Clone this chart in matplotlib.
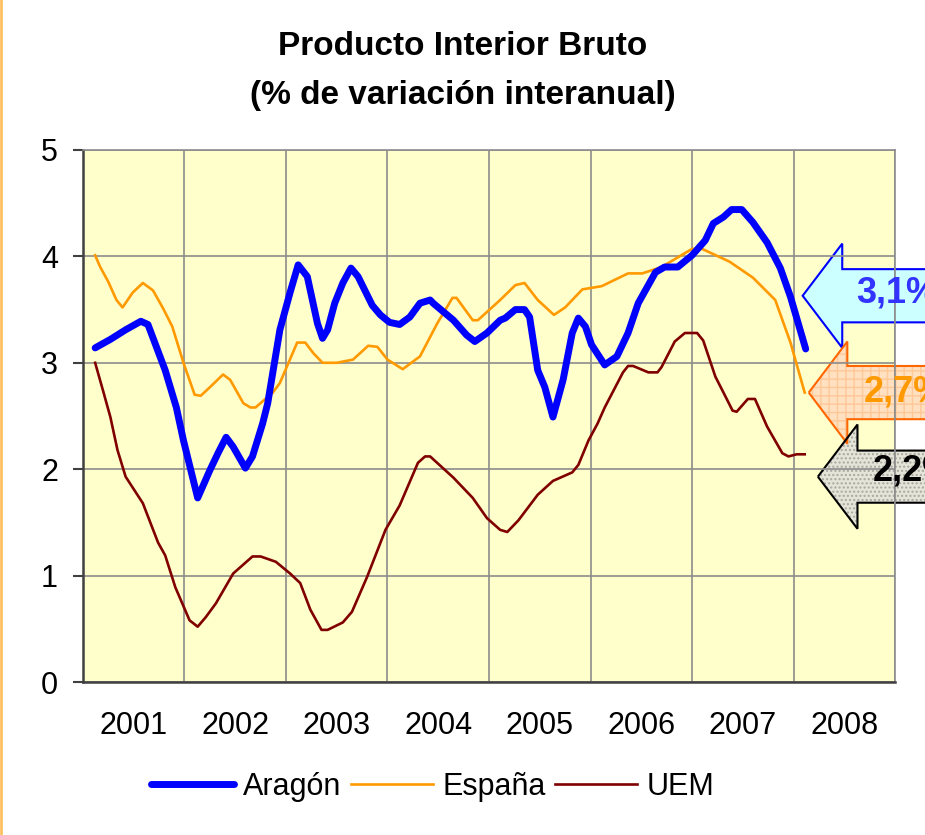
import matplotlib
matplotlib.use('Agg')
import matplotlib.pyplot as plt
from matplotlib.patches import Polygon
from matplotlib.lines import Line2D

plt.rcParams['font.family'] = ['Liberation Sans', 'DejaVu Sans']
plt.rcParams['hatch.linewidth'] = 1.0

# series (x = decimal year, y = % interanual)
aragon_x = [2001.12, 2001.27, 2001.42, 2001.57, 2001.64, 2001.81, 2001.92, 2001.99,
            2002.13, 2002.25, 2002.33, 2002.41, 2002.48, 2002.60, 2002.67, 2002.77,
            2002.82, 2002.94, 2003.04, 2003.12, 2003.21, 2003.31, 2003.36, 2003.41,
            2003.48, 2003.56, 2003.64, 2003.71, 2003.85, 2003.93, 2004.02, 2004.12,
            2004.22, 2004.32, 2004.42, 2004.45, 2004.65, 2004.78, 2004.86, 2004.98,
            2005.11, 2005.16, 2005.26, 2005.35, 2005.40, 2005.48, 2005.55, 2005.63,
            2005.73, 2005.82, 2005.88, 2005.95, 2006.01, 2006.14, 2006.26, 2006.37,
            2006.47, 2006.64, 2006.73, 2006.86, 2007.00, 2007.13, 2007.21, 2007.31,
            2007.39, 2007.49, 2007.60, 2007.74, 2007.87, 2007.97, 2008.12]
aragon_y = [3.14, 3.22, 3.31, 3.39, 3.36, 2.93, 2.58, 2.27,
            1.73, 1.99, 2.15, 2.30, 2.21, 2.01, 2.12, 2.43,
            2.62, 3.31, 3.66, 3.92, 3.81, 3.37, 3.23, 3.31,
            3.56, 3.75, 3.89, 3.81, 3.54, 3.45, 3.38, 3.36,
            3.43, 3.56, 3.59, 3.56, 3.40, 3.26, 3.20, 3.28,
            3.40, 3.42, 3.50, 3.50, 3.43, 2.93, 2.77, 2.49,
            2.84, 3.28, 3.42, 3.34, 3.17, 2.98, 3.06, 3.28,
            3.56, 3.85, 3.90, 3.90, 4.01, 4.15, 4.31, 4.37,
            4.44, 4.44, 4.32, 4.13, 3.89, 3.62, 3.13]

espana_x = [2001.12, 2001.17, 2001.25, 2001.33, 2001.39, 2001.49, 2001.59, 2001.69,
            2001.79, 2001.88, 2001.99, 2002.10, 2002.16, 2002.25, 2002.38, 2002.45,
            2002.58, 2002.65, 2002.70, 2002.87, 2002.94, 2003.11, 2003.19, 2003.27,
            2003.36, 2003.50, 2003.66, 2003.81, 2003.90, 2004.00, 2004.15, 2004.32,
            2004.49, 2004.64, 2004.68, 2004.84, 2004.89, 2005.11, 2005.26, 2005.35,
            2005.48, 2005.64, 2005.75, 2005.92, 2006.11, 2006.37, 2006.51, 2006.70,
            2007.00, 2007.10, 2007.37, 2007.60, 2007.82, 2007.97, 2008.11]
espana_y = [4.01, 3.90, 3.76, 3.59, 3.52, 3.66, 3.75, 3.68,
            3.51, 3.34, 3.00, 2.70, 2.69, 2.77, 2.89, 2.84,
            2.62, 2.58, 2.58, 2.72, 2.81, 3.19, 3.19, 3.09,
            3.00, 3.00, 3.03, 3.16, 3.15, 3.03, 2.94, 3.06,
            3.37, 3.61, 3.61, 3.40, 3.40, 3.59, 3.73, 3.75,
            3.59, 3.45, 3.52, 3.69, 3.72, 3.84, 3.84, 3.90,
            4.07, 4.07, 3.95, 3.80, 3.59, 3.19, 2.72]

uem_x = [2001.12, 2001.20, 2001.27, 2001.34, 2001.42, 2001.59, 2001.74, 2001.81,
         2001.91, 2002.05, 2002.13, 2002.21, 2002.31, 2002.48, 2002.67, 2002.75,
         2002.90, 2003.04, 2003.14, 2003.24, 2003.35, 2003.41, 2003.56, 2003.65,
         2003.80, 2003.98, 2004.12, 2004.30, 2004.37, 2004.42, 2004.65, 2004.84,
         2004.98, 2005.11, 2005.18, 2005.29, 2005.48, 2005.63, 2005.82, 2005.88,
         2005.98, 2006.07, 2006.14, 2006.32, 2006.37, 2006.42, 2006.57, 2006.66,
         2006.70, 2006.83, 2006.93, 2007.05, 2007.11, 2007.23, 2007.31, 2007.40,
         2007.44, 2007.55, 2007.62, 2007.74, 2007.89, 2007.95, 2008.03, 2008.11]
uem_y = [3.00, 2.73, 2.49, 2.18, 1.93, 1.68, 1.31, 1.19,
         0.89, 0.58, 0.52, 0.61, 0.74, 1.02, 1.18, 1.18,
         1.13, 1.02, 0.93, 0.68, 0.49, 0.49, 0.56, 0.66,
         0.99, 1.43, 1.66, 2.06, 2.12, 2.12, 1.92, 1.73,
         1.54, 1.43, 1.41, 1.52, 1.76, 1.89, 1.97, 2.04,
         2.27, 2.43, 2.58, 2.91, 2.97, 2.97, 2.91, 2.91,
         2.96, 3.20, 3.28, 3.28, 3.21, 2.87, 2.72, 2.55,
         2.54, 2.66, 2.66, 2.40, 2.15, 2.12, 2.14, 2.14]

years = ['2001', '2002', '2003', '2004', '2005', '2006', '2007', '2008']
callout_text = ['3,1%', '2,7%', '2,2%']


def left_arrow(ax, tip_x, mid_y, head_x, head_h, shaft_h, end_x, face, edge,
               hatch=None, hatch_color=None):
    pts = [(tip_x, mid_y), (head_x, mid_y + head_h), (head_x, mid_y + shaft_h),
           (end_x, mid_y + shaft_h), (end_x, mid_y - shaft_h),
           (head_x, mid_y - shaft_h), (head_x, mid_y - head_h)]
    if hatch:
        ax.add_patch(Polygon(pts, closed=True, facecolor=face, edgecolor=hatch_color,
                             hatch=hatch, lw=0, clip_on=False, zorder=0.3))
        ax.add_patch(Polygon(pts, closed=True, fill=False, edgecolor=edge,
                             lw=1.5, clip_on=False, zorder=0.35))
    else:
        ax.add_patch(Polygon(pts, closed=True, facecolor=face, edgecolor=edge,
                             lw=1.5, clip_on=False, zorder=0.3))


fig = plt.figure(figsize=(9.25, 8.35), dpi=100)
ax = fig.add_axes([0.0897, 0.1832, 0.8779, 0.6372])
ax.set_facecolor('#FFFFCC')

ax.plot(aragon_x, aragon_y, color='#0000FF', lw=5, solid_capstyle='round',
        solid_joinstyle='round', label='Aragón', zorder=3)
ax.plot(espana_x, espana_y, color='#FF9900', lw=1.9, solid_joinstyle='round',
        label='España', zorder=2.5)
ax.plot(uem_x, uem_y, color='#800000', lw=1.9, solid_joinstyle='round',
        label='UEM', zorder=2.5)

ax.set_xlim(2001, 2009)
ax.set_ylim(0, 5)
ax.set_xticks(range(2002, 2010))
ax.set_xticks([2001.5 + i for i in range(len(years))], minor=True)
ax.set_xticklabels([])
ax.set_xticklabels(years, minor=True)
ax.set_yticks(range(0, 6))
ax.tick_params(axis='x', which='both', length=0, labelsize=22, pad=21)
ax.tick_params(axis='y', length=7, width=1.5, color='#404040', labelsize=22, pad=11)
ax.set_axisbelow(True)
ax.grid(True, color='#8C8C8C', lw=1.2)

for side in ['left', 'bottom']:
    ax.spines[side].set_color('#404040')
    ax.spines[side].set_linewidth(1.8)
for side in ['top', 'right']:
    ax.spines[side].set_color('#8C8C8C')
    ax.spines[side].set_linewidth(1.2)

# callout arrows on the right (they run off the edge, as in the original)
left_arrow(ax, 2008.09, 3.63, 2008.48, 0.49, 0.25, 2009.6, '#CCFFFF', '#0000FF')
left_arrow(ax, 2008.15, 2.72, 2008.53, 0.48, 0.25, 2009.6, '#FFE0C0', '#FF6600',
           hatch='++', hatch_color='#FFC898')
left_arrow(ax, 2008.24, 1.93, 2008.63, 0.49, 0.245, 2009.6, '#E4E4D8', '#000000',
           hatch='....', hatch_color='#A8A8A0')
ax.text(2008.62, 3.66, callout_text[0], color='#3333FF', fontsize=26,
        fontweight='bold', va='center', ha='left', clip_on=False, zorder=4)
ax.text(2008.69, 2.73, callout_text[1], color='#FF9900', fontsize=26,
        fontweight='bold', va='center', ha='left', clip_on=False, zorder=4)
ax.text(2008.78, 1.98, callout_text[2], color='#000000', fontsize=26,
        fontweight='bold', va='center', ha='left', clip_on=False, zorder=4)

fig.text(0.5, 0.944, 'Producto Interior Bruto', ha='center', va='center',
         fontsize=24, fontweight='bold')
fig.text(0.5, 0.886, '(% de variación interanual)', ha='center', va='center',
         fontsize=24, fontweight='bold')

fig.legend(loc='center', bbox_to_anchor=(0.468, 0.058), ncol=3, frameon=False,
           fontsize=22, handlelength=2.7, handletextpad=0.3, columnspacing=0.3)

fig.add_artist(Line2D([0.001, 0.001], [0, 1], color='#FFC060', lw=2,
                      transform=fig.transFigure))

fig.savefig('out.png', dpi=100)
